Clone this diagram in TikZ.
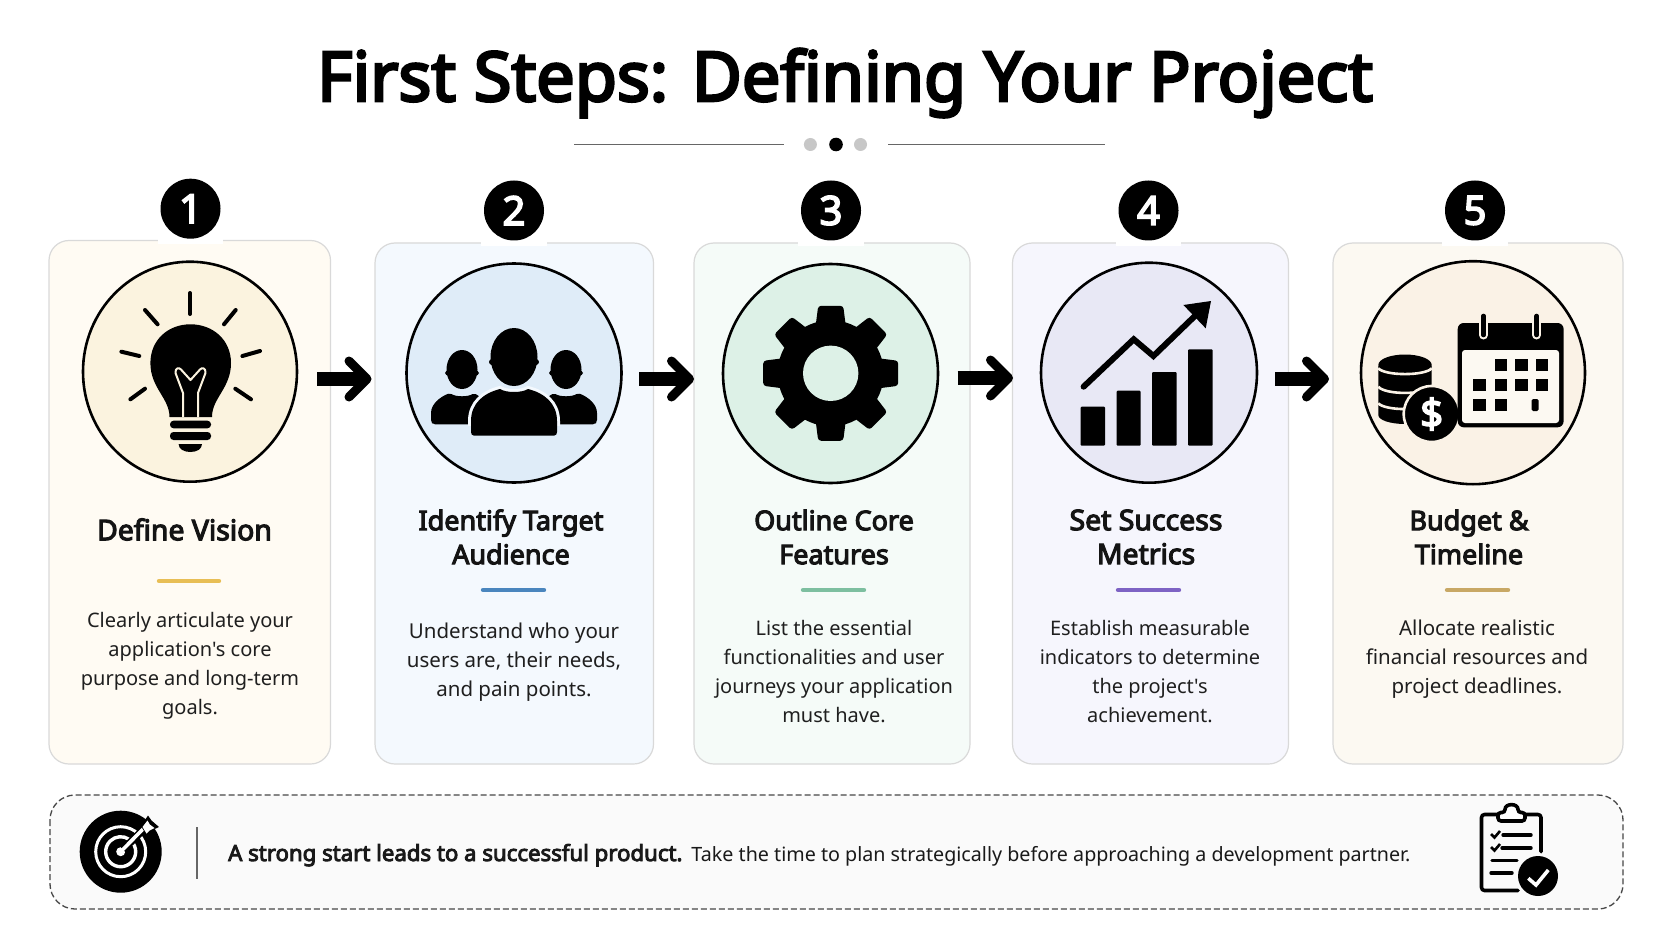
\documentclass[tikz,border=0pt]{standalone}
\usepackage{fontspec}
\setmainfont{Noto Sans}[Ligatures=TeXOff,BoldFont={Noto Sans},BoldFeatures={FakeBold=4}]
\usetikzlibrary{arrows.meta}
\definecolor{cardA}{HTML}{FFFBF3}\definecolor{cardB}{HTML}{F4F9FE}\definecolor{cardC}{HTML}{F5FBF8}\definecolor{cardD}{HTML}{F6F6FD}\definecolor{cardE}{HTML}{FCF9F2}
\definecolor{circA}{HTML}{FBF3DF}\definecolor{circB}{HTML}{DFECF8}\definecolor{circC}{HTML}{DDF1E7}\definecolor{circD}{HTML}{E8E8F5}\definecolor{circE}{HTML}{FAF2E6}
\definecolor{barA}{HTML}{E8BE55}\definecolor{barB}{HTML}{4A86BE}\definecolor{barC}{HTML}{7DBFA0}\definecolor{barD}{HTML}{7E63C4}\definecolor{barE}{HTML}{C8A865}
\tikzset{
  card/.style={draw=black!15,line width=1.2pt,rounded corners=20pt,inner sep=0pt},
  iconcircle/.style={draw=black,line width=2.6pt},
  badge/.style={circle,fill=black,text=white,inner sep=0pt,minimum size=60pt,font=\fontsize{40}{40}\selectfont\bfseries},
  ttl/.style={align=center,inner sep=0pt,text=black!92,font=\fontsize{27}{34}\selectfont\bfseries},
  ttlwide/.style={align=center,inner sep=0pt,text=black!92,font=\fontsize{28.4}{34}\selectfont\bfseries},
  bodytext/.style={align=center,inner sep=0pt,text=black!88,font=\fontsize{20}{29}\selectfont},
  bodywide/.style={align=center,inner sep=0pt,text=black!88,font=\fontsize{20.5}{29}\selectfont},
  rulebar/.style={line width=4.4pt,line cap=round},
  bigarrow/.style={line width=14pt,-{Straight Barb[length=18pt,width=36pt,line width=9pt,round]}},
  ray/.style={line width=4pt,line cap=round},
}
\begin{document}
\begin{tikzpicture}[x=1pt,y=-1pt]
\fill[white] (0,0) rectangle (1672,941);
\useasboundingbox (0,0) rectangle (1672,941);
% title
\node[inner sep=0pt,font=\fontsize{68.5}{70}\selectfont\bfseries] (title) at (845,83) {First Steps: Defining Your Project};
\coordinate (l1s) at (574,144.5);\coordinate (l1e) at (784,144.5);
\coordinate (l2s) at (888,144.5);\coordinate (l2e) at (1105,144.5);
\draw[black!60,line width=1.4pt] (l1s)--(l1e);
\draw[black!60,line width=1.4pt] (l2s)--(l2e);
\fill[black!22] (810.4,144.5) circle (6.5pt);
\fill[black] (836,144.5) circle (6.8pt);
\fill[black!22] (860.5,144.5) circle (6.5pt);
% cards
\node[card,fill=cardA,minimum width=281.5pt,minimum height=523.5pt] (c1) at (189.75,502.25) {};
\node[card,fill=cardB,minimum width=278.5pt,minimum height=521pt] (c2) at (514.25,503.5) {};
\node[card,fill=cardC,minimum width=276pt,minimum height=521pt] (c3) at (832,503.5) {};
\node[card,fill=cardD,minimum width=276pt,minimum height=521pt] (c4) at (1150.5,503.5) {};
\node[card,fill=cardE,minimum width=290pt,minimum height=521pt] (c5) at (1478,503.5) {};
% gaps under badges
\fill[white] (157.5,237) rectangle (222.5,244);
\fill[white] (481,239) rectangle (547,246);
\fill[white] (798,239) rectangle (864,246);
\fill[white] (1116,239) rectangle (1181,246);
\fill[white] (1442,239) rectangle (1508,246);
% badges
\node[badge] (b1) at (190.5,208.7) {1};
\node[badge] (b2) at (514,210.5) {2};
\node[badge] (b3) at (831,210.5) {3};
\node[badge] (b4) at (1148.5,210.5) {4};
\node[badge] (b5) at (1475,210.5) {5};
% icon circles
\draw[iconcircle,fill=circA] (190,371.7) ellipse [x radius=107pt,y radius=110pt];
\draw[iconcircle,fill=circB] (514,373) ellipse [x radius=107.5pt,y radius=109.5pt];
\draw[iconcircle,fill=circC] (830.5,373.5) ellipse [x radius=107.5pt,y radius=109.5pt];
\draw[iconcircle,fill=circD] (1149,372.7) ellipse [x radius=108pt,y radius=110pt];
\draw[iconcircle,fill=circE] (1473,372.7) ellipse [x radius=112pt,y radius=111.5pt];
% arrows
\coordinate (a1s) at (317,379);\coordinate (a1e) at (371.5,379);
\coordinate (a2s) at (639,379);\coordinate (a2e) at (694,379);
\coordinate (a3s) at (957.5,378);\coordinate (a3e) at (1013,378);
\coordinate (a4s) at (1275,379);\coordinate (a4e) at (1329,379);
\draw[bigarrow] (a1s)--(a1e);
\draw[bigarrow] (a2s)--(a2e);
\draw[bigarrow] (a3s)--(a3e);
\draw[bigarrow] (a4s)--(a4e);
% bulb
\draw[ray] (190,293)--(190,314);
\draw[ray] (145,310)--(157.6,324.3);
\draw[ray] (235.7,310)--(224,324.3);
\draw[ray] (121.4,351.7)--(139.3,356);
\draw[ray] (260,351)--(242.4,356);
\draw[ray] (130.4,399.3)--(145,388.7);
\draw[ray] (251,399.3)--(235.3,388.7);
\fill (169.5,417) .. controls (169.5,398) and (150.4,388) .. (150.4,363) .. controls (150.4,340) and (168,324.3) .. (190.5,324.3) .. controls (213,324.3) and (231,340) .. (231,363) .. controls (231,388) and (212,398) .. (212,417) -- cycle;
\draw[circA,line width=2pt,line join=round] (183,417)--(183,393)--(175.5,373) .. controls (175,368) and (179,367) .. (181,369.5) -- (190.5,380)--(200,369.5) .. controls (202,367) and (206,368) .. (205.5,373) -- (198,393)--(198,417);
\fill[rounded corners=3.5pt] (170,420.7) rectangle (211,428.3);
\fill[rounded corners=3.5pt] (170,432) rectangle (211,440);
\fill (178.6,444) -- (202,444) .. controls (202,449) and (197,452) .. (190.3,452) .. controls (184,452) and (178.6,449) .. (178.6,444) -- cycle;
% people
\fill (462,369.5) ellipse [x radius=15.5pt,y radius=19.5pt];
\fill (462,373) ellipse [x radius=17pt,y radius=5pt];
\fill (566,369.5) ellipse [x radius=15.5pt,y radius=19.5pt];
\fill (566,373) ellipse [x radius=17pt,y radius=5pt];
\fill[rounded corners=2pt] (433,424.3) -- (431,422) -- (431,415) .. controls (431,404) and (440,397) .. (450,393) .. controls (456,397) and (468,397) .. (474,393) -- (485,400) -- (485,424.3) -- cycle;
\fill[rounded corners=2pt] (595,424.3) -- (597,422) -- (597,415) .. controls (597,404) and (588,397) .. (578,393) .. controls (572,397) and (560,397) .. (554,393) -- (543,400) -- (543,424.3) -- cycle;
\begin{scope}
\clip (440,384) rectangle (590,425);
\draw[cardB,line width=6pt] (474,435.7) .. controls (472,435.7) and (471,434) .. (471,432) -- (471,421) .. controls (471,403) and (484,393) .. (500,389) .. controls (506,393) and (522,393) .. (528,389) .. controls (544,393) and (557,403) .. (557,421) -- (557,432) .. controls (557,434) and (556,435.7) .. (554,435.7) -- cycle;
\end{scope}
\fill (474,435.7) .. controls (472,435.7) and (471,434) .. (471,432) -- (471,421) .. controls (471,403) and (484,393) .. (500,389) .. controls (506,393) and (522,393) .. (528,389) .. controls (544,393) and (557,403) .. (557,421) -- (557,432) .. controls (557,434) and (556,435.7) .. (554,435.7) -- cycle;
\fill (514,357) ellipse [x radius=23.5pt,y radius=29pt];
\fill (514,362) ellipse [x radius=25pt,y radius=7pt];
% gear
\fill (830.7,373.3) circle (53pt);
\foreach \a in {0,45,...,315}{
  \fill[rounded corners=3pt,shift={(830.7,373.3)},rotate=\a] (-12.5,-67.5)--(12.5,-67.5)--(15,-48)--(-15,-48)--cycle;
}
\fill[circC] (830.7,373.3) circle (27.7pt);
% chart
\fill[rounded corners=1pt] (1080.6,406.7) rectangle (1105,445.7);
\fill[rounded corners=1pt] (1116.6,390.7) rectangle (1140.6,445.7);
\fill[rounded corners=1pt] (1152,372) rectangle (1176.6,445.7);
\fill[rounded corners=1pt] (1188,349.3) rectangle (1212.6,445.7);
\draw[line width=6pt,line cap=round,line join=miter] (1083.6,386.7)--(1133.7,339.3)--(1153.4,356)--(1198,313);
\fill (1211,301)--(1183.4,305)--(1205.7,328.3)--cycle;
% coins
\fill (1378.3,366) -- (1378.3,415) .. controls (1378.3,420) and (1390,424) .. (1405,424) .. controls (1420,424) and (1431.7,420) .. (1431.7,415) -- (1431.7,366) -- cycle;
\fill (1405,365) ellipse [x radius=26.7pt,y radius=10.5pt];
\draw[circE,line width=2.6pt] (1378.3,368.3) .. controls (1385,376) and (1425,376) .. (1431.7,368.3);
\draw[circE,line width=2.6pt] (1378.3,386.7) .. controls (1385,395) and (1425,395) .. (1431.7,386.7);
\draw[circE,line width=2.6pt] (1378.3,403.3) .. controls (1385,411) and (1425,411) .. (1431.7,403.3);
\node[circle,fill=black,draw=circE,line width=2.6pt,minimum size=56pt,inner sep=0pt,text=white,font=\fontsize{40}{40}\selectfont\bfseries] (dollar) at (1431.7,414) {\$};
% calendar
\fill[rounded corners=6pt] (1457.7,323) rectangle (1563.6,427.3);
\fill[rounded corners=3pt,fill=cardE] (1462,350) rectangle (1559,423);
\foreach \cx in {1483.5,1536.6}{
  \draw[circE,line width=9pt,line cap=round] (\cx,316)--(\cx,335);
  \draw[black,line width=4.6pt,line cap=round] (\cx,316)--(\cx,335);
}
\foreach \cx/\cy in {1501/365.3,1521.6/365.3,1542/365.3,1479.6/385,1501/385,1521.6/385,1542/385,1479.6/405,1501/405}{
  \fill (\cx-6.2,\cy-6) rectangle (\cx+6.2,\cy+6);
}
\fill[rounded corners=1.5pt] (1531.5,399) rectangle (1538.5,411);
% heading & body texts
\node[ttlwide] (t1) at (184.5,529.5) {Define Vision};
\node[ttl] (t2) at (511,537) {Identify Target\\Audience};
\node[ttl] (t3) at (834,537) {Outline Core\\Features};
\node[ttlwide] (t4) at (1146,537) {Set Success\\Metrics};
\node[ttl] (t5) at (1469,537) {Budget \&\\Timeline};
\draw[rulebar,barA] (159,581)--(219,581);
\draw[rulebar,barB] (483,590)--(544,590);
\draw[rulebar,barC] (803,590)--(864,590);
\draw[rulebar,barD] (1118,590)--(1179,590);
\draw[rulebar,barE] (1447,590)--(1508,590);
\node[bodytext] (d1) at (190,666) {Clearly articulate your\\application's core\\purpose and long-term\\goals.};
\node[bodywide] (d2) at (514,662) {Understand who your\\users are, their needs,\\and pain points.};
\node[bodytext] (d3) at (834,672) {List the essential\\functionalities and user\\journeys your application\\must have.};
\node[bodytext] (d4) at (1150,672) {Establish measurable\\indicators to determine\\the project's\\achievement.};
\node[bodywide] (d5) at (1477,659) {Allocate realistic\\financial resources and\\project deadlines.};
% bottom band
\draw[fill=black!1.8,draw=black!72,line width=1.3pt,dash pattern=on 6pt off 3pt,rounded corners=25pt] (50,795) rectangle (1623,909);
% target icon
\fill (120.7,851.7) circle (41pt);
\draw[white,line width=3pt] (120.7,851.7) circle (25pt);
\draw[white,line width=3.4pt] (131.3,841.1) arc[start angle=45,end angle=-305,radius=15pt];
\fill[white] (120.7,851.7) circle (4.5pt);
\draw[black,line width=7.5pt] (123,849.5)--(143,830);
\draw[white,line width=3.6pt] (120.7,851.7)--(146,826);
\fill[black] (141,826)--(148,815.5)--(151.5,820.5)--(159,827)--(152.5,830)--(147,836)--cycle;
\fill[white] (142.5,827) -- (147.5,820.5)--(149.8,824.5)--(154.5,828)--(149.5,830.5)--(146.5,833.5)--cycle;
\coordinate (seps) at (197,827);\coordinate (sepe) at (197,879);
\draw[black!60,line width=1.3pt] (seps)--(sepe);
\node[anchor=base west,inner sep=0pt,text=black!90] (note) at (228,861) {\fontsize{22.2}{22}\selectfont\textbf{A strong start leads to a successful product.}\hspace{9pt}\fontsize{19.7}{22}\selectfont Take the time to plan strategically before approaching a development partner.};
% clipboard
\draw[line width=3.6pt,line cap=round,line join=round,rounded corners=3pt] (1541,851.7)--(1541,814.5)--(1481.5,814.5)--(1481.5,890.5)--(1518,890.5);
\draw[line width=3.6pt,fill=white,rounded corners=3pt] (1498,812.5)--(1505,812.5) .. controls (1505,803) and (1518,803) .. (1518,812.5) -- (1525,812.5)--(1525,821)--(1498,821)--cycle;
\foreach \yy/\xs/\xe in {835/1503/1531,848/1502/1531,860.5/1492/1517,873/1491/1512}{
  \draw[line width=3.4pt,line cap=round] (\xs,\yy)--(\xe,\yy);
}
\draw[line width=2.6pt] (1491,834)--(1494.5,837.5)--(1500,831);
\draw[line width=2.6pt] (1491,847)--(1494.5,850.5)--(1500,844);
\fill[black] (1538,876) circle (20pt);
\draw[white,line width=3.6pt,line join=miter] (1528.3,878.3)--(1536,885)--(1548.3,870);
\end{tikzpicture}
\end{document}
